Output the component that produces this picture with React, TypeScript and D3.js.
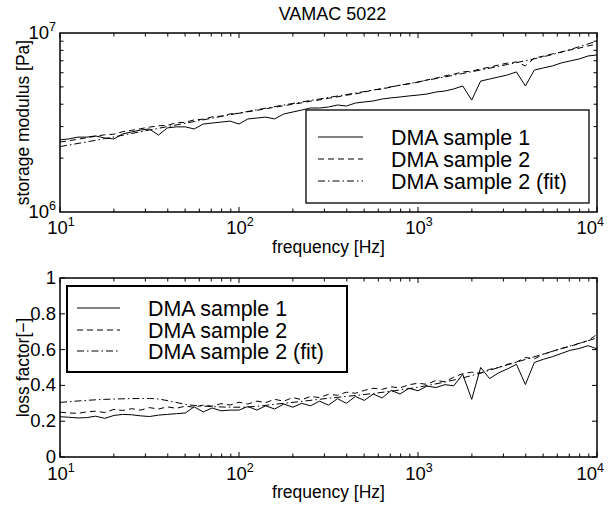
import React from 'react';
import * as d3 from 'd3';

// frequencies of the measured points [Hz]
const freq = [
  10, 11.2, 12.6, 14.1, 15.8, 17.8, 20, 22.4, 25.1, 28.2,
  31.6, 35.5, 39.8, 44.7, 50.1, 56.2, 63.1, 70.8, 79.4, 89.1,
  100, 112, 126, 141, 158, 178, 200, 224, 251, 282,
  316, 355, 398, 447, 501, 562, 631, 708, 794, 891,
  1000, 1122, 1259, 1413, 1585, 1778, 1995, 2239, 2512, 2818,
  3162, 3548, 3981, 4467, 5012, 5623, 6310, 7079, 7943, 8913,
  10000,
];

// storage modulus [MPa]
const storage1 = [
  2.53, 2.56, 2.62, 2.62, 2.66, 2.59, 2.56, 2.73, 2.80, 2.87,
  2.91, 2.69, 2.95, 2.99, 2.99, 2.91, 3.10, 3.14, 3.18, 3.22,
  3.10, 3.31, 3.35, 3.39, 3.31, 3.53, 3.62, 3.71, 3.81, 3.81,
  3.86, 3.96, 3.91, 4.06, 4.12, 4.17, 4.28, 4.34, 4.39, 4.45,
  4.50, 4.56, 4.68, 4.74, 4.87, 5.06, 4.22, 5.39, 5.53, 5.68,
  5.83, 6.06, 5.06, 6.21, 6.38, 6.54, 6.80, 6.98, 7.16, 7.44,
  7.54,
];
const storage2 = [
  2.46, 2.50, 2.55, 2.60, 2.65, 2.70, 2.72, 2.81, 2.86, 2.92,
  2.98, 3.03, 3.05, 3.15, 3.17, 3.27, 3.30, 3.40, 3.43, 3.53,
  3.56, 3.63, 3.70, 3.77, 3.85, 3.92, 4.00, 4.07, 4.16, 4.23,
  4.32, 4.40, 4.49, 4.57, 4.67, 4.81, 4.86, 5.00, 5.11, 5.20,
  5.31, 5.47, 5.59, 5.76, 5.89, 6.06, 6.12, 6.30, 6.44, 6.63,
  6.79, 6.89, 6.55, 7.25, 7.42, 7.64, 7.82, 8.04, 8.23, 8.47,
  8.68,
];

// loss factor [-]
const loss1 = [
  0.225, 0.222, 0.218, 0.220, 0.228, 0.216, 0.232, 0.238, 0.236, 0.230,
  0.226, 0.234, 0.238, 0.242, 0.246, 0.280, 0.252, 0.274, 0.258, 0.262,
  0.262, 0.282, 0.262, 0.286, 0.268, 0.296, 0.278, 0.300, 0.286, 0.312,
  0.290, 0.326, 0.300, 0.338, 0.316, 0.352, 0.330, 0.372, 0.352, 0.384,
  0.370, 0.396, 0.388, 0.404, 0.398, 0.462, 0.322, 0.500, 0.438, 0.470,
  0.492, 0.518, 0.405, 0.528, 0.546, 0.560, 0.578, 0.596, 0.606, 0.622,
  0.604,
];
const loss2 = [
  0.250, 0.246, 0.244, 0.252, 0.256, 0.248, 0.266, 0.260, 0.270, 0.262,
  0.276, 0.268, 0.280, 0.272, 0.284, 0.278, 0.290, 0.284, 0.298, 0.290,
  0.306, 0.296, 0.312, 0.304, 0.322, 0.312, 0.332, 0.320, 0.338, 0.332,
  0.350, 0.345, 0.362, 0.356, 0.372, 0.384, 0.378, 0.392, 0.386, 0.404,
  0.412, 0.406, 0.428, 0.420, 0.446, 0.466, 0.474, 0.468, 0.490, 0.500,
  0.518, 0.530, 0.556, 0.548, 0.574, 0.590, 0.606, 0.618, 0.634, 0.650,
  0.685,
];

// fitted curve (sample 2)
const fitFreq = [10, 17.8, 31.6, 56.2, 100, 178, 316, 562, 1000, 1778, 3162, 5623, 10000];
const storageFit = [2.32, 2.57, 2.87, 3.20, 3.57, 3.96, 4.36, 4.80, 5.33, 5.94, 6.67, 7.58, 9.02];
const lossFit = [0.305, 0.322, 0.327, 0.288, 0.278, 0.300, 0.328, 0.355, 0.390, 0.442, 0.515, 0.590, 0.665];

const seriesNames = ['DMA sample 1', 'DMA sample 2', 'DMA sample 2 (fit)'];
const lossTicks = [0, 0.2, 0.4, 0.6, 0.8, 1];

const W = 610;
const H = 508;
const font = 'Liberation Sans, Arial, Helvetica, sans-serif';
const dashes = [null, '6,4', '7,3,1.5,3'];
const tickFont = 18.5;
const labelFont = 17.5;

const left = 60;
const right = 597;
const top1 = 33;
const bottom1 = 212;
const top2 = 278;
const bottom2 = 457;

const x = d3.scaleLog().domain([10, 1e4]).range([left, right]);
const yS = d3.scaleLog().domain([1e6, 1e7]).range([bottom1, top1]);
const yL = d3.scaleLinear().domain([0, 1]).range([bottom2, top2]);

const logMinor = (lo, hi) => {
  const out = [];
  for (let e = lo; e < hi; e++) {
    for (let k = 2; k <= 9; k++) out.push(k * Math.pow(10, e));
  }
  return out;
};
const xMajor = [10, 100, 1000, 10000];
const xMinor = logMinor(1, 4);
const ySMinor = logMinor(6, 7);

function Pow10({ px, py, exp, anchor = 'middle' }) {
  return (
    <text x={px} y={py} textAnchor={anchor} fontSize={tickFont} fontFamily={font}>
      10<tspan dy={-8} fontSize={12.5}>{exp}</tspan>
    </text>
  );
}

function XTicks({ y0, y1 }) {
  return (
    <g stroke="#000" strokeWidth={1}>
      {xMajor.map(t => (
        <g key={t}>
          <line x1={x(t)} x2={x(t)} y1={y1} y2={y1 - 5} />
          <line x1={x(t)} x2={x(t)} y1={y0} y2={y0 + 5} />
        </g>
      ))}
      {xMinor.map(t => (
        <g key={t}>
          <line x1={x(t)} x2={x(t)} y1={y1} y2={y1 - 3.5} />
          <line x1={x(t)} x2={x(t)} y1={y0} y2={y0 + 3.5} />
        </g>
      ))}
    </g>
  );
}

function XLabels({ base }) {
  return (
    <g>
      {xMajor.map((t, i) =>
        i === xMajor.length - 1
          ? <Pow10 key={t} px={W - 6} py={base} exp={i + 1} anchor="end" />
          : <Pow10 key={t} px={x(t) + 1} py={base} exp={i + 1} />
      )}
    </g>
  );
}

function Legend({ bx, by, bw, bh, lineX, textX, rows, strokeW }) {
  return (
    <g>
      <rect x={bx} y={by} width={bw} height={bh} fill="#fff" stroke="#000" strokeWidth={strokeW} />
      {seriesNames.map((name, i) => (
        <g key={name}>
          <line x1={lineX[0]} x2={lineX[1]} y1={rows[i]} y2={rows[i]}
            stroke="#000" strokeWidth={1} strokeDasharray={dashes[i] || undefined} />
          <text x={textX} y={rows[i] + 7.5} fontSize={21.4} fontFamily={font}>{name}</text>
        </g>
      ))}
    </g>
  );
}

export default function App() {
  const storageLine = d3.line<number>()
    .x((_, i) => x(freq[i]))
    .y(d => yS(d * 1e6));
  const storageFitLine = d3.line<number>()
    .x((_, i) => x(fitFreq[i]))
    .y(d => yS(d * 1e6))
    .curve(d3.curveMonotoneX);
  const lossLine = d3.line<number>()
    .x((_, i) => x(freq[i]))
    .y(d => yL(d));
  const lossFitLine = d3.line<number>()
    .x((_, i) => x(fitFreq[i]))
    .y(d => yL(d))
    .curve(d3.curveMonotoneX);

  return (
    <svg width={W} height={H} style={{ position: 'absolute', left: 0, top: 0, background: '#fff' }}>
      <rect x={0} y={0} width={W} height={H} fill="#fff" />

      {/* title */}
      <text x={(left + right) / 2 + 4} y={20} textAnchor="middle" fontSize={18} fontFamily={font}>VAMAC 5022</text>

      {/* ---- top: storage modulus ---- */}
      <g fill="none" stroke="#000" strokeWidth={1}>
        <path d={storageLine(storage1)} />
        <path d={storageLine(storage2)} strokeDasharray={dashes[1]} />
        <path d={storageFitLine(storageFit)} strokeDasharray={dashes[2]} />
      </g>
      <XTicks y0={top1} y1={bottom1} />
      <g stroke="#000" strokeWidth={1}>
        {ySMinor.map(t => (
          <g key={t}>
            <line x1={left} x2={left + 3.5} y1={yS(t)} y2={yS(t)} />
            <line x1={right} x2={right - 3.5} y1={yS(t)} y2={yS(t)} />
          </g>
        ))}
      </g>
      <rect x={left} y={top1} width={right - left} height={bottom1 - top1} fill="none" stroke="#000" strokeWidth={1.5} />
      <XLabels base={bottom1 + 22} />
      <Pow10 px={left - 4} py={yS(1e7) + 6} exp={7} anchor="end" />
      <Pow10 px={left - 4} py={yS(1e6) + 6} exp={6} anchor="end" />
      <text x={(left + right) / 2} y={bottom1 + 41} textAnchor="middle" fontSize={labelFont} fontFamily={font}>frequency [Hz]</text>
      <text transform={`translate(29, ${(top1 + bottom1) / 2}) rotate(-90)`} textAnchor="middle" fontSize={labelFont} fontFamily={font}>storage modulus [Pa]</text>
      <Legend bx={306} by={110} bw={283} bh={93} lineX={[318, 363]} textX={391} rows={[137, 159, 181]} strokeW={1.3} />

      {/* ---- bottom: loss factor ---- */}
      <g fill="none" stroke="#000" strokeWidth={1}>
        <path d={lossLine(loss1)} />
        <path d={lossLine(loss2)} strokeDasharray={dashes[1]} />
        <path d={lossFitLine(lossFit)} strokeDasharray={dashes[2]} />
      </g>
      <XTicks y0={top2} y1={bottom2} />
      <g stroke="#000" strokeWidth={1}>
        {lossTicks.map(t => (
          <g key={t}>
            <line x1={left} x2={left + 5} y1={yL(t)} y2={yL(t)} />
            <line x1={right} x2={right - 5} y1={yL(t)} y2={yL(t)} />
          </g>
        ))}
      </g>
      <rect x={left} y={top2} width={right - left} height={bottom2 - top2} fill="none" stroke="#000" strokeWidth={1.5} />
      <XLabels base={bottom2 + 23} />
      {lossTicks.map(t => (
        <text key={t} x={left - 4} y={yL(t) + 6} textAnchor="end" fontSize={tickFont} fontFamily={font}>{String(t)}</text>
      ))}
      <text x={(left + right) / 2} y={bottom2 + 41} textAnchor="middle" fontSize={labelFont} fontFamily={font}>frequency [Hz]</text>
      <text transform={`translate(29, ${(top2 + bottom2) / 2}) rotate(-90)`} textAnchor="middle" fontSize={labelFont} fontFamily={font}>loss factor[−]</text>
      <Legend bx={67} by={286} bw={280} bh={86} lineX={[77, 120]} textX={148} rows={[308, 330, 351]} strokeW={2} />
    </svg>
  );
}
